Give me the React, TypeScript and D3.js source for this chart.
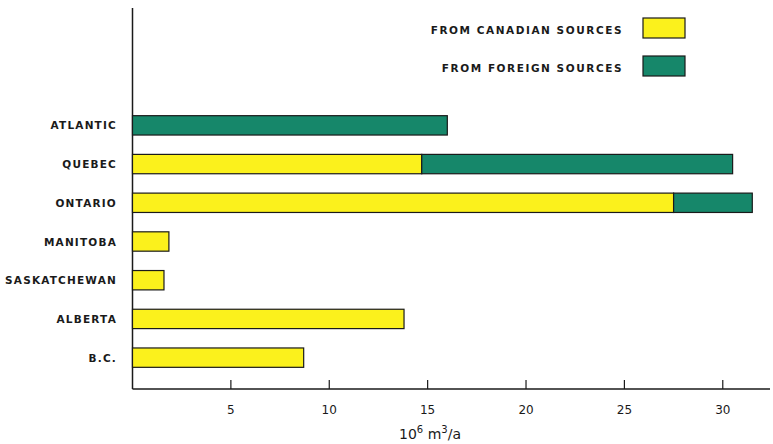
import React from "react";
import * as d3 from "d3";

const regions = ["ATLANTIC", "QUEBEC", "ONTARIO", "MANITOBA", "SASKATCHEWAN", "ALBERTA", "B.C."];
const canadian = [0, 14.7, 27.5, 1.85, 1.6, 13.8, 8.7];
const foreign = [16.0, 15.8, 4.0, 0, 0, 0, 0];
const ticks = [5, 10, 15, 20, 25, 30];
const legendLabels = ["FROM CANADIAN SOURCES", "FROM FOREIGN SOURCES"];

const YELLOW = "#fbf11c";
const GREEN = "#16876a";

export default function App() {
  const W = 773, H = 444;
  const x = d3.scaleLinear().domain([0, 32.4]).range([132.5, 770]);
  const y = d3.scaleBand().domain(regions).range([106, 377]).paddingInner(0.5).paddingOuter(0.25);
  const axisY = 389;
  const font = "'DejaVu Sans', sans-serif";
  return (
    <svg width={W} height={H} style={{ position: "absolute", left: 0, top: 0, background: "#fff" }}>
      {/* axes */}
      <line x1={x(0)} x2={x(0)} y1={8} y2={axisY} stroke="#1a1a1a" strokeWidth={1.5} />
      <line x1={x(0)} x2={770} y1={axisY} y2={axisY} stroke="#1a1a1a" strokeWidth={1.5} />
      {ticks.map((t) => (
        <g key={t}>
          <line x1={x(t)} x2={x(t)} y1={axisY} y2={axisY - 9} stroke="#1a1a1a" strokeWidth={1.2} />
          <text x={x(t)} y={414} textAnchor="middle" fontFamily={font} fontSize={12} fill="#1a1a1a">{t}</text>
        </g>
      ))}
      <text x={430} y={439} textAnchor="middle" fontFamily={font} fontSize={14} fill="#1a1a1a">
        10<tspan dy={-6} fontSize={10}>6</tspan><tspan dy={6}> m</tspan><tspan dy={-6} fontSize={10}>3</tspan><tspan dy={6}>/a</tspan>
      </text>
      {/* bars */}
      {regions.map((r, i) => {
        const y0 = y(r)!;
        const h = y.bandwidth();
        return (
          <g key={r}>
            {canadian[i] > 0 && (
              <rect x={x(0)} y={y0} width={x(canadian[i]) - x(0)} height={h} fill={YELLOW} stroke="#1a1a1a" strokeWidth={1.2} />
            )}
            {foreign[i] > 0 && (
              <rect x={x(canadian[i])} y={y0} width={x(canadian[i] + foreign[i]) - x(canadian[i])} height={h} fill={GREEN} stroke="#1a1a1a" strokeWidth={1.2} />
            )}
            <text x={117} y={y0 + h / 2 + 4} textAnchor="end" fontFamily={font} fontWeight="bold" fontSize={10.5} letterSpacing={1.2} fill="#1a1a1a">{r}</text>
          </g>
        );
      })}
      {/* legend */}
      {legendLabels.map((l, i) => (
        <g key={l}>
          <text x={623} y={34 + i * 38} textAnchor="end" fontFamily={font} fontWeight="bold" fontSize={10.5} letterSpacing={1.55} fill="#1a1a1a">{l}</text>
          <rect x={643} y={18 + i * 38} width={42} height={20} fill={i === 0 ? YELLOW : GREEN} stroke="#1a1a1a" strokeWidth={1.2} />
        </g>
      ))}
    </svg>
  );
}
